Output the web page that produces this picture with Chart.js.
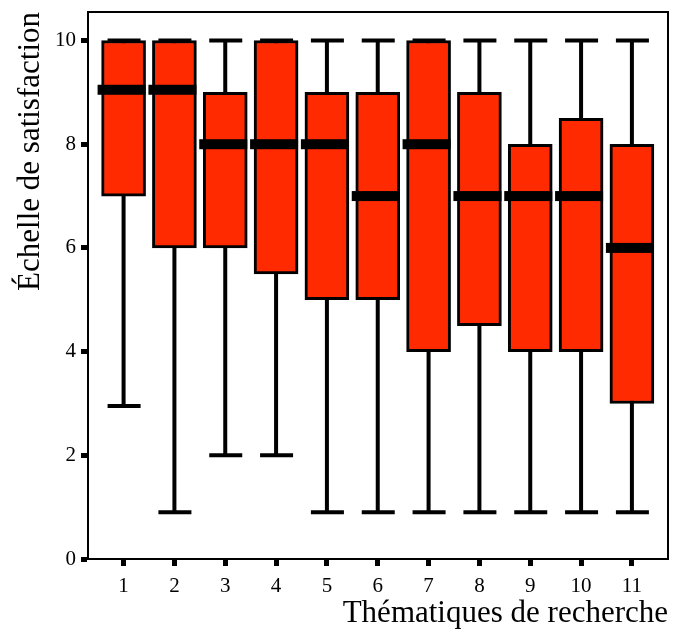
<!DOCTYPE html>
<html>
<head>
<meta charset="utf-8">
<script src="https://cdn.jsdelivr.net/npm/chart.js@4.4.1/dist/chart.umd.min.js"></script>
<style>
  html, body { margin: 0; padding: 0; background: #fff; }
  #wrap { width: 676px; height: 634px; }
</style>
</head>
<body>
<div id="wrap"><canvas id="boxChart" width="676" height="634"></canvas></div>
<script>
// chart values
const categories = ["1", "2", "3", "4", "5", "6", "7", "8", "9", "10", "11"];
const lowWhisker = [2.95, 0.9, 2, 2, 0.9, 0.9, 0.9, 0.9, 0.9, 0.9, 0.9];
const q1 = [7, 6, 6, 5.5, 5, 5, 4, 4.5, 4, 4, 3];
const median = [9.05, 9.05, 8, 8, 8, 7, 8, 7, 7, 7, 6];
const q3 = [10, 10, 9, 10, 9, 9, 10, 9, 8, 8.5, 8];
const highWhisker = [10, 10, 10, 10, 10, 10, 10, 10, 10, 10, 10];
const yTicks = [0, 2, 4, 6, 8, 10];

const serif = "'Liberation Serif', 'Times New Roman', serif";

// whiskers drawn under the boxes, medians on top, frame round the plot
const boxPlugin = {
  id: "boxParts",
  beforeDatasetsDraw(chart) {
    const ctx = chart.ctx, x = chart.scales.x, y = chart.scales.y;
    ctx.save();
    ctx.strokeStyle = "#000";
    categories.forEach(function(c, i) {
      const px = x.getPixelForValue(i + 1);
      const lo = y.getPixelForValue(lowWhisker[i]);
      const hi = y.getPixelForValue(highWhisker[i]);
      ctx.lineWidth = 4;
      ctx.beginPath();
      ctx.moveTo(px, lo);
      ctx.lineTo(px, hi);
      ctx.stroke();
      ctx.beginPath();
      ctx.moveTo(px - 16, lo); ctx.lineTo(px + 17, lo);
      ctx.moveTo(px - 16, hi); ctx.lineTo(px + 17, hi);
      ctx.stroke();
    });
    ctx.restore();
  },
  afterDatasetsDraw(chart) {
    const ctx = chart.ctx, x = chart.scales.x, y = chart.scales.y;
    const a = chart.chartArea;
    ctx.save();
    ctx.fillStyle = "#000";
    categories.forEach(function(c, i) {
      const px = x.getPixelForValue(i + 1);
      const py = y.getPixelForValue(median[i]);
      ctx.fillRect(px - 26, py - 5, 48, 10);
    });
    ctx.strokeStyle = "#000";
    ctx.lineWidth = 2;
    ctx.strokeRect(a.left, a.top, a.right - a.left, a.bottom - a.top);
    ctx.restore();
  }
};

document.addEventListener("DOMContentLoaded", function() {
  const ctx = document.getElementById("boxChart").getContext("2d");
  new Chart(ctx, {
    type: "bar",
    data: {
      datasets: [
        {
          label: "Satisfaction",
          data: categories.map(function(c, i) { return { x: i + 1, y: [q1[i], q3[i]] }; }),
          backgroundColor: "#ff2a00",
          borderColor: "#000",
          borderWidth: 3,
          borderSkipped: false,
          barThickness: 44
        }
      ]
    },
    options: {
      responsive: false,
      animation: false,
      layout: { padding: { top: 12, right: 8, left: 0, bottom: 0 } },
      plugins: {
        legend: { display: false },
        tooltip: { enabled: false }
      },
      scales: {
        x: {
          type: "linear",
          min: 0.3,
          max: 11.71,
          offset: false,
          afterBuildTicks: function(scale) {
            scale.ticks = categories.map(function(c, i) { return { value: i + 1 }; });
          },
          afterFit: function(scale) {
            scale.height = 75;
            scale.paddingLeft = 0;
            scale.paddingRight = 0;
          },
          grid: { offset: false, drawOnChartArea: false, color: "#000", tickLength: 7, tickWidth: 5 },
          border: { color: "#000", width: 2 },
          ticks: {
            color: "#000",
            font: { family: serif, size: 21 },
            padding: 8,
            maxRotation: 0,
            callback: function(v) { return categories[v - 1]; }
          },
          title: {
            display: true,
            text: "Thématiques de recherche",
            align: "end",
            color: "#000",
            font: { family: serif, size: 31 },
            padding: { top: 0, bottom: 2 }
          }
        },
        y: {
          min: 0,
          max: 10.55,
          afterBuildTicks: function(scale) {
            scale.ticks = yTicks.map(function(v) { return { value: v }; });
          },
          afterFit: function(scale) {
            scale.width = 88;
            scale.paddingTop = 0;
            scale.paddingBottom = 0;
          },
          grid: { drawOnChartArea: false, color: "#000", tickLength: 7, tickWidth: 5 },
          border: { color: "#000", width: 2 },
          ticks: {
            color: "#000",
            font: { family: serif, size: 21 },
            padding: 5
          },
          title: {
            display: true,
            text: "Échelle de satisfaction",
            align: "end",
            color: "#000",
            font: { family: serif, size: 31 },
            padding: { top: 12, bottom: 0 }
          }
        }
      }
    },
    plugins: [boxPlugin]
  });
});
</script>
</body>
</html>
